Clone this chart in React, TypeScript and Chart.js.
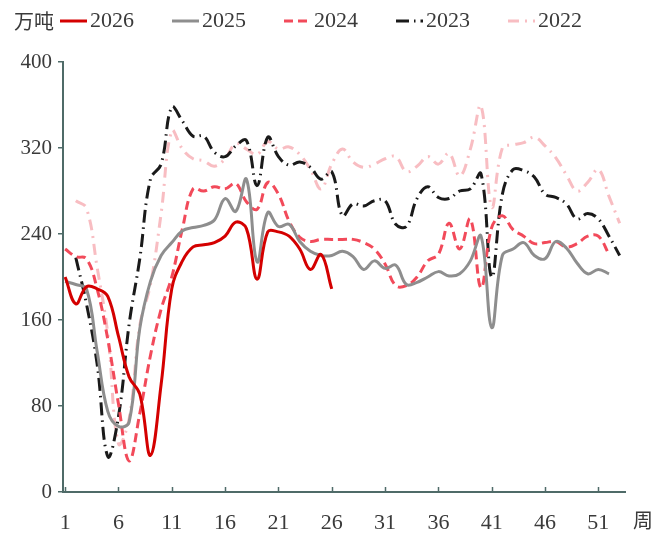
import React, { useEffect, useRef } from "react";
import { Chart, registerables } from "chart.js";

Chart.register(...registerables);

// ---- data ----
const weeks: number[] = Array.from({ length: 53 }, (_, i) => i + 1);
const xTickValues: number[] = [1, 6, 11, 16, 21, 26, 31, 36, 41, 46, 51];
const yTickValues: number[] = [0, 80, 160, 240, 320, 400];
const seriesNames: string[] = ["2026", "2025", "2024", "2023", "2022"];
const unitLabel = "万吨";
const xUnitLabel = "周";

const v2026: (number | null)[] = [
  200, 175, 191, 189, 182, 145, 107, 91, 34, 100, 189, 215, 228, 230, 232, 238,
  251, 245, 198, 242, 242, 238, 226, 207, 221, 189,
];
const v2025: (number | null)[] = [
  196, 193, 189, 131, 75, 61, 65, 152, 196, 220, 232, 243, 246, 248, 253, 273,
  261, 291, 214, 260, 247, 249, 233, 224, 220, 220, 224, 219, 207, 215, 208, 211,
  193, 195, 200, 205, 201, 203, 215, 238, 153, 220, 226, 232, 220, 217, 233, 227,
  213, 203, 207, 203,
];
const v2024: (number | null)[] = [
  226, 219, 217, 189, 142, 82, 29, 73, 127, 170, 200, 245, 282, 280, 284, 282,
  287, 270, 263, 288, 277, 252, 237, 233, 235, 235, 235, 235, 232, 226, 212, 192,
  192, 200, 215, 221, 250, 226, 254, 190, 246, 257, 244, 238, 231, 232, 233, 228,
  231, 238, 238, 221,
];
const v2023: (number | null)[] = [
  null, 218, 175, 119, 33, 70, 156, 217, 291, 305, 358, 345, 331, 331, 316, 312,
  322, 327, 285, 330, 312, 304, 307, 302, 291, 298, 257, 268, 266, 271, 271, 249,
  247, 273, 284, 274, 273, 280, 282, 296, 200, 277, 300, 299, 293, 277, 274, 268,
  254, 259, 254, 238, 220,
];
const v2022: (number | null)[] = [
  null, 271, 264, 209, 147, 45, 68, 155, 193, 259, 336, 319, 310, 308, 303, 310,
  324, 319, 314, 326, 319, 321, 314, 300, 282, 305, 319, 307, 302, 305, 310, 312,
  298, 303, 312, 305, 315, 294, 319, 359, 265, 320, 323, 325, 330, 322, 311, 295,
  280, 288, 300, 275, 250,
];

const seriesValues = [v2026, v2025, v2024, v2023, v2022];
const seriesColors = ["#d40000", "#8e8e8e", "#f24a5a", "#1a1a1a", "#f8bdc2"];
const seriesDash: number[][] = [[], [], [9, 5], [13, 5, 1.5, 5], [11, 6, 2, 6]];

const AXIS_COLOR = "#4f6b68";
const TEXT_COLOR = "#3a3a3a";
const NUM_FONT = "'Liberation Serif', 'Times New Roman', serif";
const CJK_FONT = "'Noto Sans CJK SC', sans-serif";

const overlayPlugin = {
  id: "overlay",
  afterDraw(chart: any) {
    const ctx = chart.ctx as CanvasRenderingContext2D;
    const xScale = chart.scales.x;
    const bottom = chart.chartArea.bottom;
    ctx.save();
    // x tick marks pointing inward
    ctx.strokeStyle = AXIS_COLOR;
    ctx.lineWidth = 1.5;
    ctx.setLineDash([]);
    xTickValues.forEach((v) => {
      const px = Math.round(xScale.getPixelForValue(v)) + 0.5;
      ctx.beginPath();
      ctx.moveTo(px, bottom);
      ctx.lineTo(px, bottom - 5);
      ctx.stroke();
    });
    // legend
    const ly = 21;
    ctx.textBaseline = "middle";
    ctx.textAlign = "left";
    ctx.fillStyle = TEXT_COLOR;
    ctx.font = `20px ${CJK_FONT}`;
    ctx.fillText(unitLabel, 14, ly);
    chart.data.datasets.forEach((ds: any, i: number) => {
      const x0 = 60 + i * 112;
      ctx.strokeStyle = ds.borderColor;
      ctx.lineWidth = ds.borderWidth;
      ctx.setLineDash(ds.borderDash || []);
      ctx.beginPath();
      ctx.moveTo(x0, ly);
      ctx.lineTo(x0 + 27, ly);
      ctx.stroke();
      ctx.setLineDash([]);
      ctx.fillStyle = TEXT_COLOR;
      ctx.font = `22px ${NUM_FONT}`;
      ctx.fillText(ds.label, x0 + 30, ly);
    });
    // x unit label
    ctx.font = `20px ${CJK_FONT}`;
    ctx.fillStyle = TEXT_COLOR;
    ctx.fillText(xUnitLabel, 633, 520);
    ctx.restore();
  },
};

export default function App() {
  const canvasRef = useRef<HTMLCanvasElement | null>(null);

  useEffect(() => {
    document.body.style.margin = "0";
    const canvas = canvasRef.current;
    if (!canvas) return;
    const datasets = seriesNames.map((name, i) => ({
      label: name,
      data: seriesValues[i].map((v, j) => ({ x: weeks[j], y: v })),
      borderColor: seriesColors[i],
      backgroundColor: seriesColors[i],
      borderWidth: 3,
      borderDash: seriesDash[i],
      pointRadius: 0,
      tension: 0.4,
      spanGaps: false,
      fill: false,
    }));
    const chart = new Chart(canvas, {
      type: "line",
      data: { datasets },
      options: {
        animation: false,
        responsive: false,
        devicePixelRatio: 1,
        layout: { padding: { top: 62, right: 47, left: 0, bottom: 0 } },
        plugins: {
          legend: { display: false },
          tooltip: { enabled: false },
        },
        scales: {
          x: {
            type: "linear",
            min: 0.8,
            max: 53.5,
            afterBuildTicks: (s: any) => {
              s.ticks = xTickValues.map((v) => ({ value: v }));
            },
            afterFit: (s: any) => {
              s.height = 41;
            },
            ticks: {
              autoSkip: false,
              maxRotation: 0,
              color: TEXT_COLOR,
              font: { family: NUM_FONT, size: 22 },
              padding: 18,
              callback: (v: any) => String(v),
            },
            grid: { display: true, drawOnChartArea: false, drawTicks: false },
            border: { color: AXIS_COLOR, width: 2 },
          },
          y: {
            min: 0,
            max: 400,
            afterBuildTicks: (s: any) => {
              s.ticks = yTickValues.map((v) => ({ value: v }));
            },
            afterFit: (s: any) => {
              s.width = 63;
            },
            ticks: {
              color: TEXT_COLOR,
              font: { family: NUM_FONT, size: 21 },
              padding: 6,
            },
            grid: {
              display: true,
              drawOnChartArea: false,
              drawTicks: true,
              tickLength: 5,
              color: AXIS_COLOR,
              lineWidth: 1.5,
            },
            border: { color: AXIS_COLOR, width: 2 },
          },
        },
      },
      plugins: [overlayPlugin],
    } as any);
    return () => chart.destroy();
  }, []);

  return (
    <div style={{ width: 672, height: 533, background: "#fff" }}>
      <canvas ref={canvasRef} width={672} height={533} style={{ display: "block" }} />
    </div>
  );
}
